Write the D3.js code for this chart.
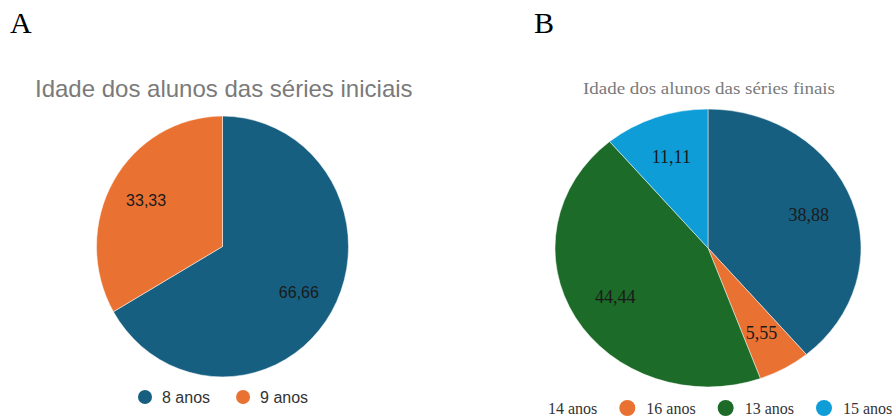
<!DOCTYPE html>
<html>
<head>
<meta charset="utf-8">
<script src="https://cdn.jsdelivr.net/npm/d3@7"></script>
<style>
  body { margin: 0; background: #fff; }
  svg { display: block; }
</style>
</head>
<body>
<svg width="896" height="417"></svg>
<script>
// panel A - series iniciais
let agesA = ["8 anos", "9 anos"];
let valuesA = [66.66, 33.33];
let colorsA = ["#175f80", "#e97132"];

// panel B - series finais
let agesB = ["14 anos", "16 anos", "13 anos", "15 anos"];
let valuesB = [38.88, 5.55, 44.44, 11.11];
let colorsB = ["#175f80", "#e97132", "#1c6b28", "#0f9dd8"];

let fmt = v => v.toFixed(2).replace(".", ",");

var svg = d3.select("svg");

// clip the right panel like the original figure crop
svg.append("defs").append("clipPath").attr("id", "clipB")
    .append("rect").attr("x", 540).attr("y", 0).attr("width", 356).attr("height", 417);

function drawPie(opts) {
    var g = svg.append("g");
    if (opts.clip) g.attr("clip-path", "url(#" + opts.clip + ")");

    var pie = d3.pie().sort(null);
    var arcs = pie(opts.values);
    var arc = d3.arc().innerRadius(0).outerRadius(opts.r);
    var labelArc = d3.arc().innerRadius(opts.r * 0.7).outerRadius(opts.r * 0.7);

    var pg = g.append("g")
        .attr("transform", "translate(" + opts.cx + "," + opts.cy + ") scale(1," + opts.sy + ")");
    pg.selectAll("path")
        .data(arcs)
        .enter().append("path")
        .attr("fill", (d, i) => opts.colors[i])
        .attr("stroke", "#fff")
        .attr("stroke-width", 0.5)
        .attr("d", arc);

    g.selectAll("text.lbl")
        .data(arcs)
        .enter().append("text")
        .attr("class", "lbl")
        .attr("x", d => opts.cx + labelArc.centroid(d)[0])
        .attr("y", d => opts.cy + labelArc.centroid(d)[1] * opts.sy)
        .attr("dy", "0.35em")
        .attr("text-anchor", "middle")
        .style("font-family", opts.font)
        .style("font-size", opts.labelSize + "px")
        .style("fill", "#1a1a1a")
        .text(d => fmt(d.data));

    // title
    var tt = g.append("text")
        .attr("x", opts.titleX).attr("y", opts.titleY)
        .style("font-family", opts.font)
        .style("font-size", opts.titleSize + "px")
        .style("fill", "#7a7a7a")
        .text(opts.title);
    if (opts.titleWidth) {
        tt.attr("textLength", opts.titleWidth).attr("lengthAdjust", "spacingAndGlyphs");
    }

    // legend
    var x = opts.legendX;
    opts.labels.forEach(function(lab, i) {
        g.append("circle")
            .attr("cx", x).attr("cy", opts.legendY)
            .attr("r", opts.dotR)
            .attr("fill", opts.colors[i]);
        var t = g.append("text")
            .attr("x", x + opts.dotGap).attr("y", opts.legendY)
            .attr("dy", "0.35em")
            .style("font-family", opts.font)
            .style("font-size", opts.legendSize + "px")
            .style("fill", "#333")
            .text(lab);
        x = x + opts.dotGap + t.node().getComputedTextLength() + opts.itemGap;
    });
}

drawPie({
    values: valuesA, colors: colorsA, labels: agesA,
    cx: 222.5, cy: 246.5, r: 126, sy: 1.035,
    font: "'Liberation Sans', Arial, sans-serif",
    labelSize: 16,
    title: "Idade dos alunos das séries iniciais",
    titleX: 35, titleY: 97, titleSize: 24,
    legendX: 145, legendY: 397, dotR: 7, dotGap: 17, itemGap: 33, legendSize: 16
});

drawPie({
    values: valuesB, colors: colorsB, labels: agesB,
    cx: 708, cy: 248, r: 153, sy: 0.908, clip: "clipB",
    font: "'Liberation Serif', 'Times New Roman', serif",
    labelSize: 18,
    title: "Idade dos alunos das séries finais",
    titleX: 583, titleY: 94, titleSize: 16, titleWidth: 252,
    legendX: 529, legendY: 408, dotR: 8, dotGap: 19, itemGap: 30, legendSize: 16
});

// panel letters
svg.append("text").attr("x", 10).attr("y", 33)
    .style("font-family", "'Liberation Serif', 'Times New Roman', serif")
    .style("font-size", "30px").style("fill", "#000").text("A");
svg.append("text").attr("x", 534).attr("y", 33)
    .style("font-family", "'Liberation Serif', 'Times New Roman', serif")
    .style("font-size", "30px").style("fill", "#000").text("B");
</script>
</body>
</html>
